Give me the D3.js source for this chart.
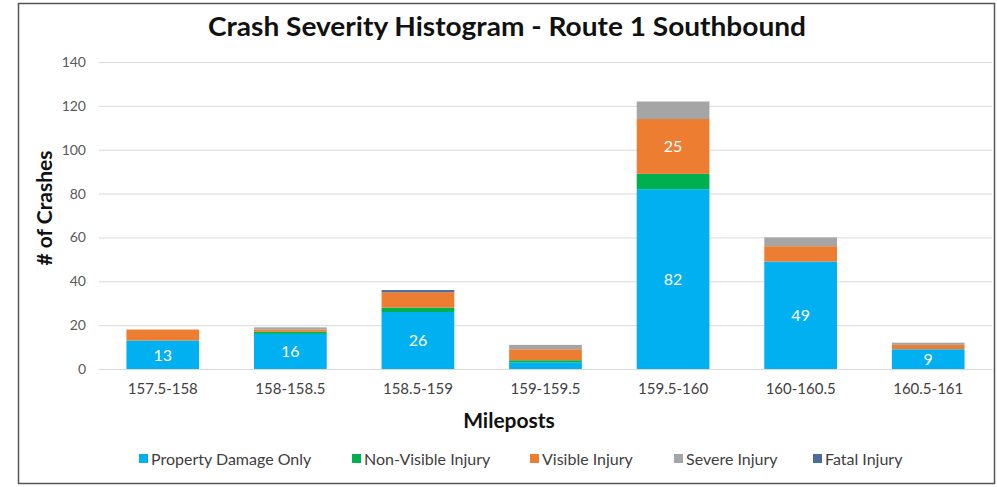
<!DOCTYPE html>
<html>
<head>
<meta charset="utf-8">
<script src="https://cdn.jsdelivr.net/npm/d3@7"></script>
<style>
  body { margin: 0; background: #fff; }
  svg { display: block; font-family: Lato, "Open Sans", sans-serif; }
</style>
</head>
<body>
<svg id="chart" width="997" height="487"></svg>
<script>
// mileposts along the x axis
var mileposts = ["157.5-158", "158-158.5", "158.5-159", "159-159.5", "159.5-160", "160-160.5", "160.5-161"];
var severities = ["Property Damage Only", "Non-Visible Injury", "Visible Injury", "Severe Injury", "Fatal Injury"];
var colors = ["#00B0F0", "#00B050", "#ED7D31", "#A5A5A5", "#4C6A9A"];

// counts per severity, one value per milepost
var propertyDamage = [13, 16, 26, 3, 82, 49, 9];
var nonVisible     = [0, 1, 2, 1, 7, 0, 0];
var visible        = [5, 1, 7, 5, 25, 7, 2];
var severe         = [0, 1, 0, 2, 8, 4, 1];
var fatal          = [0, 0, 1, 0, 0, 0, 0];
var yTicks = [0, 20, 40, 60, 80, 100, 120, 140];

var series = [propertyDamage, nonVisible, visible, severe, fatal];
var rows = mileposts.map(function(m, i){
  var r = {milepost: m};
  severities.forEach(function(s, j){ r[s] = series[j][i]; });
  return r;
});

var svg = d3.select("#chart");
var padding = {t: 62, r: 5, b: 118, l: 99};
var width = 997, height = 487;

// frame
svg.append("rect")
  .attr("x", 18.5).attr("y", 3.5)
  .attr("width", 976).attr("height", 480)
  .attr("fill", "none")
  .attr("stroke", "#555")
  .attr("stroke-width", 1.5);

var x = d3.scaleBand()
  .domain(mileposts)
  .range([padding.l, width - padding.r])
  .paddingInner(0.43)
  .paddingOuter(0.215);

var y = d3.scaleLinear()
  .domain([0, 140])
  .range([369, padding.t]);

var color = d3.scaleOrdinal().domain(severities).range(colors);

// gridlines
svg.append("g")
  .selectAll("line")
  .data(yTicks)
  .enter().append("line")
    .attr("x1", padding.l)
    .attr("x2", 992)
    .attr("y1", function(d){ return y(d) + 0.5; })
    .attr("y2", function(d){ return y(d) + 0.5; })
    .attr("stroke", "#D9D9D9")
    .attr("stroke-width", 1);

// y axis labels only
var yAxis = d3.axisLeft(y).tickValues(yTicks).tickSize(0).tickPadding(0);
var yG = svg.append("g")
  .attr("transform", "translate(86,0)")
  .call(yAxis);
yG.select(".domain").remove();
yG.selectAll("text")
  .attr("fill", "#595959")
  .style("font-size", "14px")
  .style("font-family", "Lato, sans-serif");

var stacked = d3.stack().keys(severities)(rows);

var layers = svg.append("g")
  .selectAll("g")
  .data(stacked)
  .enter().append("g")
    .attr("fill", function(d){ return color(d.key); });

layers.selectAll("rect")
  .data(function(d){ return d; })
  .enter().append("rect")
    .attr("x", function(d){ return x(d.data.milepost); })
    .attr("y", function(d){ return y(d[1]); })
    .attr("width", x.bandwidth())
    .attr("height", function(d){ return y(d[0]) - y(d[1]); });

// data labels for the larger segments
layers.selectAll("text")
  .data(function(d){ return d.filter(function(p){ return p[1] - p[0] >= 9; }); })
  .enter().append("text")
    .attr("x", function(d){ return x(d.data.milepost) + x.bandwidth() / 2; })
    .attr("y", function(d){ return (y(d[0]) + y(d[1])) / 2; })
    .attr("dy", "0.36em")
    .attr("text-anchor", "middle")
    .attr("fill", "#fff")
    .style("font-size", "16px")
    .text(function(d){ return d[1] - d[0]; });

// x axis
var xAxis = d3.axisBottom(x).tickSize(0).tickPadding(14);
var xG = svg.append("g")
  .attr("transform", "translate(0,369)")
  .call(xAxis);
xG.select(".domain").attr("stroke", "#D9D9D9");
xG.selectAll("text")
  .attr("fill", "#404040")
  .style("font-size", "15px")
  .style("font-family", "Lato, sans-serif");

// title
svg.append("text")
  .attr("x", 507)
  .attr("y", 36)
  .attr("text-anchor", "middle")
  .attr("font-weight", "bold")
  .attr("fill", "#111")
  .attr("textLength", 598)
  .attr("lengthAdjust", "spacingAndGlyphs")
  .style("font-size", "27px")
  .text("Crash Severity Histogram - Route 1 Southbound");

// axis titles
svg.append("text")
  .attr("transform", "translate(52,208) rotate(-90)")
  .attr("text-anchor", "middle")
  .attr("font-weight", "bold")
  .attr("fill", "#111")
  .style("font-size", "21px")
  .text("# of Crashes");

svg.append("text")
  .attr("x", 509)
  .attr("y", 428)
  .attr("text-anchor", "middle")
  .attr("font-weight", "bold")
  .attr("fill", "#111")
  .style("font-size", "21px")
  .text("Mileposts");

// legend
var legendX = [139, 352, 530, 674, 813];
var legend = svg.append("g")
  .selectAll("g")
  .data(severities)
  .enter().append("g")
    .attr("transform", function(d, i){ return "translate(" + legendX[i] + ",454)"; });

legend.append("rect")
  .attr("width", 9)
  .attr("height", 9)
  .attr("fill", color);

legend.append("text")
  .attr("x", 12)
  .attr("y", 5)
  .attr("dy", "0.35em")
  .attr("fill", "#404040")
  .style("font-size", "16px")
  .text(function(d){ return d; });
</script>
</body>
</html>
